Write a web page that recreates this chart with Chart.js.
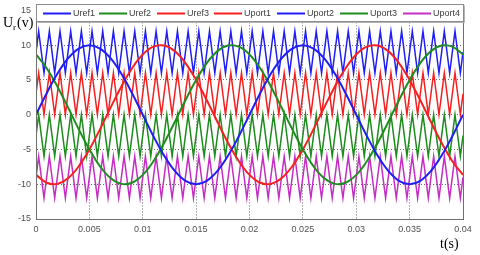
<!DOCTYPE html>
<html><head><meta charset="utf-8">
<script src="https://cdn.jsdelivr.net/npm/chart.js@4/dist/chart.umd.min.js"></script>
<style>html,body{margin:0;padding:0;background:#fff;}#wrap{position:relative;width:480px;height:255px;}</style>
</head><body><div id="wrap"><canvas id="c" width="480" height="255"></canvas></div>
<script>
// ---- data ----
const xTickLabels = ['0','0.005','0.01','0.015','0.02','0.025','0.03','0.035','0.04'];
const yTickLabels = ['-15','-10','-5','0','5','10','15'];
const seriesNames = ['Uref1','Uref2','Uref3','Uport1','Uport2','Uport3','Uport4'];

const tRef = [0,0.001,0.002,0.003,0.004,0.005,0.006,0.007,0.008,0.009,
  0.010,0.011,0.012,0.013,0.014,0.015,0.016,0.017,0.018,0.019,
  0.020,0.021,0.022,0.023,0.024,0.025,0.026,0.027,0.028,0.029,
  0.030,0.031,0.032,0.033,0.034,0.035,0.036,0.037,0.038,0.039,0.040];
const uref1 = [0,3.09,5.88,8.09,9.51,10,9.51,8.09,5.88,3.09,
  0,-3.09,-5.88,-8.09,-9.51,-10,-9.51,-8.09,-5.88,-3.09,
  0,3.09,5.88,8.09,9.51,10,9.51,8.09,5.88,3.09,
  0,-3.09,-5.88,-8.09,-9.51,-10,-9.51,-8.09,-5.88,-3.09,0];
const uref2 = [8.66,6.69,4.07,1.05,-2.08,-5,-7.43,-9.14,-9.95,-9.78,
  -8.66,-6.69,-4.07,-1.05,2.08,5,7.43,9.14,9.95,9.78,
  8.66,6.69,4.07,1.05,-2.08,-5,-7.43,-9.14,-9.95,-9.78,
  -8.66,-6.69,-4.07,-1.05,2.08,5,7.43,9.14,9.95,9.78,8.66];
const uref3 = [-8.66,-9.78,-9.95,-9.14,-7.43,-5,-2.08,1.05,4.07,6.69,
  8.66,9.78,9.95,9.14,7.43,5,2.08,-1.05,-4.07,-6.69,
  -8.66,-9.78,-9.95,-9.14,-7.43,-5,-2.08,1.05,4.07,6.69,
  8.66,9.78,9.95,9.14,7.43,5,2.08,-1.05,-4.07,-6.69,-8.66];

const tCarrier = [0,
  0.00025,0.00075,0.00125,0.00175,0.00225,0.00275,0.00325,0.00375,0.00425,0.00475,
  0.00525,0.00575,0.00625,0.00675,0.00725,0.00775,0.00825,0.00875,0.00925,0.00975,
  0.01025,0.01075,0.01125,0.01175,0.01225,0.01275,0.01325,0.01375,0.01425,0.01475,
  0.01525,0.01575,0.01625,0.01675,0.01725,0.01775,0.01825,0.01875,0.01925,0.01975,
  0.02025,0.02075,0.02125,0.02175,0.02225,0.02275,0.02325,0.02375,0.02425,0.02475,
  0.02525,0.02575,0.02625,0.02675,0.02725,0.02775,0.02825,0.02875,0.02925,0.02975,
  0.03025,0.03075,0.03125,0.03175,0.03225,0.03275,0.03325,0.03375,0.03425,0.03475,
  0.03525,0.03575,0.03625,0.03675,0.03725,0.03775,0.03825,0.03875,0.03925,0.03975,
  0.04];
const uport1 = [3,
  6,0,6,0,6,0,6,0,6,0, 6,0,6,0,6,0,6,0,6,0,
  6,0,6,0,6,0,6,0,6,0, 6,0,6,0,6,0,6,0,6,0,
  6,0,6,0,6,0,6,0,6,0, 6,0,6,0,6,0,6,0,6,0,
  6,0,6,0,6,0,6,0,6,0, 6,0,6,0,6,0,6,0,6,0,
  3];
const uport2 = [9,
  12,6,12,6,12,6,12,6,12,6, 12,6,12,6,12,6,12,6,12,6,
  12,6,12,6,12,6,12,6,12,6, 12,6,12,6,12,6,12,6,12,6,
  12,6,12,6,12,6,12,6,12,6, 12,6,12,6,12,6,12,6,12,6,
  12,6,12,6,12,6,12,6,12,6, 12,6,12,6,12,6,12,6,12,6,
  9];
const uport3 = [-3,
  0,-6,0,-6,0,-6,0,-6,0,-6, 0,-6,0,-6,0,-6,0,-6,0,-6,
  0,-6,0,-6,0,-6,0,-6,0,-6, 0,-6,0,-6,0,-6,0,-6,0,-6,
  0,-6,0,-6,0,-6,0,-6,0,-6, 0,-6,0,-6,0,-6,0,-6,0,-6,
  0,-6,0,-6,0,-6,0,-6,0,-6, 0,-6,0,-6,0,-6,0,-6,0,-6,
  -3];
const uport4 = [-9,
  -6,-12,-6,-12,-6,-12,-6,-12,-6,-12, -6,-12,-6,-12,-6,-12,-6,-12,-6,-12,
  -6,-12,-6,-12,-6,-12,-6,-12,-6,-12, -6,-12,-6,-12,-6,-12,-6,-12,-6,-12,
  -6,-12,-6,-12,-6,-12,-6,-12,-6,-12, -6,-12,-6,-12,-6,-12,-6,-12,-6,-12,
  -6,-12,-6,-12,-6,-12,-6,-12,-6,-12, -6,-12,-6,-12,-6,-12,-6,-12,-6,-12,
  -9];

// ---- styling ----
const BLUE = '#1f1ff5', GREEN = '#1e8c1e', RED = '#f52020', MAG = '#c42ec4';
const zip = (xs, ys) => xs.map((x, i) => ({x: x, y: ys[i]}));

function ds(label, xs, ys, color, w, smooth) {
  return {label, data: zip(xs, ys), borderColor: color, backgroundColor: color,
    borderWidth: w, pointRadius: 0, fill: false, tension: smooth ? 0.4 : 0};
}

const datasets = [
  ds(seriesNames[0], tRef, uref1, BLUE, 2, true),
  ds(seriesNames[1], tRef, uref2, GREEN, 2, true),
  ds(seriesNames[2], tRef, uref3, RED, 2, true),
  ds(seriesNames[3], tCarrier, uport1, RED, 1.5, false),
  ds(seriesNames[4], tCarrier, uport2, BLUE, 1.5, false),
  ds(seriesNames[5], tCarrier, uport3, GREEN, 1.5, false),
  ds(seriesNames[6], tCarrier, uport4, MAG, 1.5, false)
];

const frameAndLegend = {
  id: 'frameAndLegend',
  afterDatasetsDraw(chart) {
    const {ctx, chartArea: a} = chart;
    ctx.save();
    ctx.strokeStyle = '#6e6e6e';
    ctx.lineWidth = 1;
    ctx.strokeRect(Math.round(a.left) + 0.5, Math.round(a.top) + 0.5,
      Math.round(a.right - a.left), Math.round(a.bottom - a.top));
    ctx.restore();
  },
  afterDraw(chart) {
    const {ctx, chartArea: a} = chart;
    ctx.save();
    // legend box
    const bx = Math.round(a.left) + 0.5, by = 4.5, bw = Math.round(a.right - a.left), bh = 17;
    ctx.fillStyle = '#ffffff';
    ctx.fillRect(bx, by, bw, bh);
    ctx.strokeStyle = '#8c8c8c';
    ctx.lineWidth = 1;
    ctx.strokeRect(bx, by, bw, bh);
    ctx.strokeStyle = '#b4b4b4';
    ctx.beginPath();
    ctx.moveTo(bx + 1, by + bh + 1); ctx.lineTo(bx + bw + 1, by + bh + 1); ctx.lineTo(bx + bw + 1, by + 1);
    ctx.stroke();
    const itemX = [43, 99, 157, 214, 277, 340, 403];
    const cy = 13.5;
    ctx.font = '9px "Liberation Sans", Arial, sans-serif';
    ctx.textBaseline = 'middle';
    chart.data.datasets.forEach((d, i) => {
      const x = itemX[i];
      ctx.strokeStyle = d.borderColor;
      ctx.lineWidth = 2;
      ctx.beginPath(); ctx.moveTo(x, cy); ctx.lineTo(x + 28, cy); ctx.stroke();
      ctx.fillStyle = '#3c3c3c';
      ctx.fillText(d.label, x + 30, cy + 0.5);
    });
    // axis titles
    ctx.fillStyle = '#000';
    ctx.textBaseline = 'alphabetic';
    ctx.font = '14px "Liberation Serif", "Times New Roman", serif';
    ctx.fillText('U', 3, 27);
    ctx.font = '9px "Liberation Serif", "Times New Roman", serif';
    ctx.fillText('r', 13, 30);
    ctx.font = '14px "Liberation Serif", "Times New Roman", serif';
    ctx.fillText('(v)', 17, 27);
    ctx.fillText('t(s)', 440, 248);
    ctx.restore();
  }
};

new Chart(document.getElementById('c'), {
  type: 'line',
  data: {datasets},
  options: {
    responsive: false,
    animation: false,
    devicePixelRatio: 1,
    layout: {padding: {left: 0, right: 17, top: 8, bottom: 0}},
    plugins: {legend: {display: false}, tooltip: {enabled: false}},
    scales: {
      x: {
        type: 'linear', min: 0, max: 0.04,
        afterFit(s) { s.height = 36; },
        ticks: {stepSize: 0.005, padding: 5, color: '#505050', maxRotation: 0,
          font: {family: '"Liberation Sans", Arial, sans-serif', size: 9},
          callback: v => xTickLabels[Math.round(v / 0.005)]},
        grid: {color: '#6a6a6a', lineWidth: 1, drawTicks: false},
        border: {display: true, color: '#6e6e6e', dash: [1, 2]}
      },
      y: {
        type: 'linear', min: -15, max: 15,
        afterFit(s) { s.width = 36; },
        ticks: {stepSize: 5, padding: 5, color: '#505050',
          font: {family: '"Liberation Sans", Arial, sans-serif', size: 9},
          callback: v => yTickLabels[Math.round((v + 15) / 5)]},
        grid: {color: '#6a6a6a', lineWidth: 1, drawTicks: false},
        border: {display: true, color: '#6e6e6e', dash: [1, 2]}
      }
    }
  },
  plugins: [frameAndLegend]
});
</script>
</body></html>
